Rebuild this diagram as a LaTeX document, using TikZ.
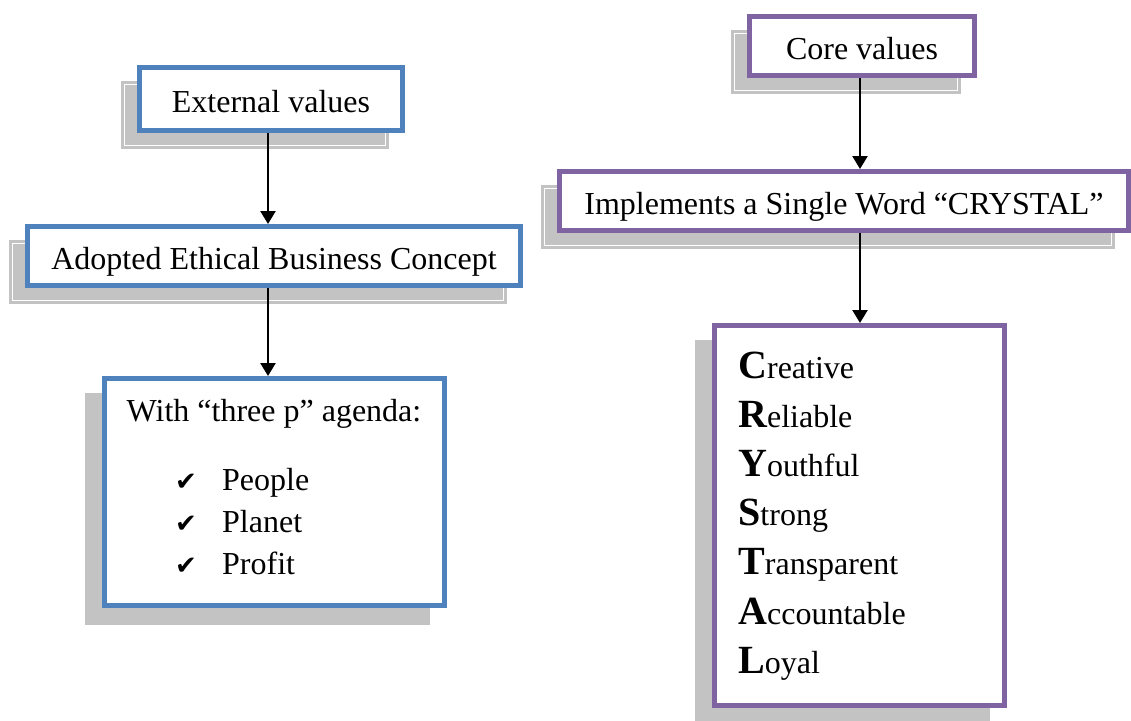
\documentclass[tikz,border=0pt]{standalone}
\usepackage{fontspec}
\setmainfont{Liberation Serif}
\newfontfamily\symfont{DejaVu Sans}
\usetikzlibrary{arrows.meta,backgrounds}
\definecolor{boxblue}{HTML}{4F81BD}
\definecolor{boxpurple}{HTML}{8064A2}
\definecolor{shadowgray}{HTML}{C3C3C3}
\tikzset{
  box/.style={draw, line width=5pt, fill=white, inner sep=0pt, text height=26pt, text depth=0pt, font=\fontsize{32}{42}\selectfont},
  bluebox/.style={box, draw=boxblue},
  purplebox/.style={box, draw=boxpurple},
  txt/.style={inner sep=0pt, font=\fontsize{32}{42}\selectfont},
  arr/.style={line width=2.5pt, -{Triangle[length=13pt,width=15pt]}},
}
\newcommand{\initial}[1]{{\fontsize{40}{49}\selectfont\bfseries #1}}

\begin{document}
\begin{tikzpicture}[x=1pt,y=-1pt]
	\useasboundingbox (0,0) rectangle (1131,720);
	% left column
	\node[bluebox, minimum width=263, minimum height=63] (ext) at (271,99) {External values};
	\node[bluebox, minimum width=493, minimum height=59] (adopt) at (274,256) {Adopted Ethical Business Concept};
	\node[bluebox, minimum width=340, minimum height=227] (agenda) at (274.5,492) {};
	\node[txt, anchor=base] (agendahead) at (274,421) {With “three p” agenda:};
	\foreach \w [count=\i from 0] in {People,Planet,Profit}{
		\node[txt, anchor=base west] (chk\i) at (175,490+42*\i) {\symfont\fontsize{26}{30}\selectfont ✔};
		\node[txt, anchor=base west] (item\i) at (222,490+42*\i) {\w};
	}
	% right column
	\node[purplebox, minimum width=225, minimum height=59] (core) at (862,46) {Core values};
	\node[purplebox, minimum width=569, minimum height=59] (impl) at (844,201) {Implements a Single Word “CRYSTAL”};
	\node[purplebox, minimum width=290, minimum height=380] (crystal) at (859.5,515.5) {};
	\foreach \c/\rest [count=\i from 0] in {C/reative,R/eliable,Y/outhful,S/trong,T/ransparent,A/ccountable,L/oyal}{
		\node[txt, anchor=base west] (cr\i) at (738,378+49.2*\i) {\initial{\c}\rest};
	}
	% shadows
	\begin{scope}[on background layer]
		\foreach \n in {ext,adopt,core,impl}{
			\fill[shadowgray] ([shift={(-16,16)}]\n.north west) rectangle ([shift={(-16,16)}]\n.south east);
			\draw[white, line width=1pt] ([shift={(-12.5,19.5)}]\n.north west) rectangle ([shift={(-19.5,12.5)}]\n.south east);
		}
		\foreach \n in {agenda,crystal}{
			\fill[shadowgray] ([shift={(-17,17)}]\n.north west) rectangle ([shift={(-17,17)}]\n.south east);
		}
	\end{scope}
	% arrows
	\coordinate (lx) at (268,0);
	\coordinate (rx) at (860,0);
	\draw[arr] (ext.south -| lx) -- (adopt.north -| lx);
	\draw[arr] (adopt.south -| lx) -- (agenda.north -| lx);
	\draw[arr] (core.south -| rx) -- (impl.north -| rx);
	\draw[arr] (impl.south -| rx) -- (crystal.north -| rx);
\end{tikzpicture}
\end{document}
